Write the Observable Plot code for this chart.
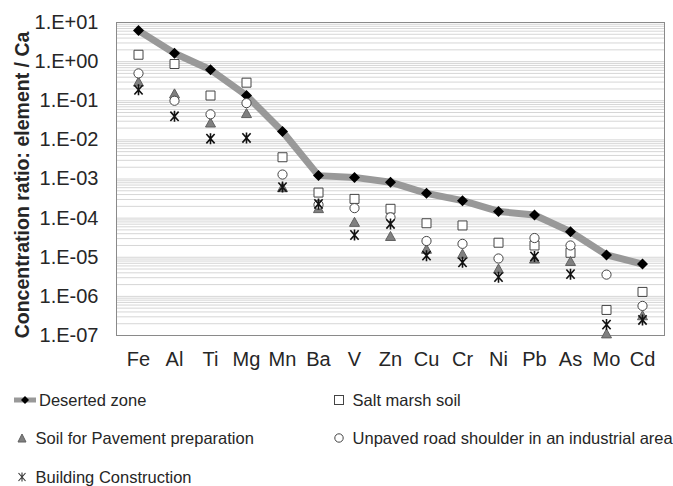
<!DOCTYPE html>
<html>
<head>
<meta charset="utf-8">
<script src="https://cdn.jsdelivr.net/npm/d3@7"></script>
<script src="https://cdn.jsdelivr.net/npm/@observablehq/plot@0.6"></script>
<style>
  body { margin: 0; background: white; font-family: "Liberation Sans", Arial, sans-serif; }
  #wrap { position: relative; width: 673px; height: 486px; overflow: hidden; }
  #legend { position: absolute; left: 0; top: 375px; width: 673px; height: 111px; font-size: 16.5px; color: #262626; }
  .item { position: absolute; display: flex; align-items: center; white-space: nowrap; height: 20px; }
  .item svg { margin-right: 3px; }
</style>
</head>
<body>
<div id="wrap">
  <div id="chart"></div>
  <div id="legend"></div>
</div>
<script>
const elements = ["Fe","Al","Ti","Mg","Mn","Ba","V","Zn","Cu","Cr","Ni","Pb","As","Mo","Cd"];
const deserted  = [6.2, 1.64, 0.62, 0.136, 0.0163, 0.00122, 0.0011, 0.00083, 0.00043, 0.00028, 0.000148, 0.00012, 4.5e-5, 1.15e-5, 6.7e-6];
const saltMarsh = [1.5, 0.87, 0.136, 0.29, 0.0036, 0.00045, 0.00031, 0.000173, 7.4e-5, 6.5e-5, 2.35e-5, 2.0e-5, 1.3e-5, 4.5e-7, 1.3e-6];
const pavement  = [0.3, 0.15, 0.027, 0.047, 6.0e-4, 1.75e-4, 7.8e-5, 3.4e-5, 1.6e-5, 1.2e-5, 5e-6, 9e-6, 7.8e-6, 1.1e-7, 3.2e-7];
const unpaved   = [0.5, 0.10, 0.045, 0.087, 0.0013, 2.2e-4, 1.8e-4, 1.05e-4, 2.6e-5, 2.2e-5, 9.3e-6, 3.1e-5, 2.0e-5, 3.6e-6, 5.7e-7];
const building  = [0.19, 0.04, 0.0107, 0.0112, 6.2e-4, 2.3e-4, 3.7e-5, 7.1e-5, 1.1e-5, 7.4e-6, 3.1e-6, 1.05e-5, 3.7e-6, 1.9e-7, 2.5e-7];
const seriesNames = ["Deserted zone", "Salt marsh soil", "Soil for Pavement preparation", "Unpaved road shoulder in an industrial area", "Building Construction"];
const yTicks = [1e1, 1e0, 1e-1, 1e-2, 1e-3, 1e-4, 1e-5, 1e-6, 1e-7];
const yTickLabels = ["1.E+01","1.E+00","1.E-01","1.E-02","1.E-03","1.E-04","1.E-05","1.E-06","1.E-07"];
const yLabel = "Concentration ratio: element / Ca";

const rows = (vals) => elements.map((el, i) => ({el, v: vals[i]}));

// minor gridlines (log scale)
const grid = [];
for (let e = -7; e <= 0; e++) for (let m = 1; m <= 9; m++) grid.push(m * Math.pow(10, e));
grid.push(10);

const rOf = (size) => Math.sqrt(size / Math.PI);
const diamondSym = {draw(c, s){ const r = rOf(s); c.moveTo(0,-r); c.lineTo(r,0); c.lineTo(0,r); c.lineTo(-r,0); c.closePath(); }};
const squareSym = {draw(c, s){ const r = rOf(s); c.rect(-r,-r,2*r,2*r); }};
const triSym = {draw(c, s){ const r = rOf(s); c.moveTo(0,-r); c.lineTo(r,0.8*r); c.lineTo(-r,0.8*r); c.closePath(); }};
const starSym = {draw(c, s){ const r = rOf(s);
  c.moveTo(0,-r); c.lineTo(0,r);
  c.moveTo(-0.75*r,-0.85*r); c.lineTo(0.75*r,0.85*r);
  c.moveTo(-0.75*r,0.85*r); c.lineTo(0.75*r,-0.85*r); }};

const chart = Plot.plot({
  width: 673, height: 375,
  marginTop: 22, marginLeft: 116, marginRight: 9, marginBottom: 40,
  style: {fontFamily: "'Liberation Sans', Arial, sans-serif", fontSize: "20px", color: "#262626", background: "white", overflow: "visible"},
  x: {type: "point", domain: elements, padding: 0.5, align: 0.5, label: null, tickSize: 0, tickPadding: 16},
  y: {type: "log", domain: [1e-7, 10], ticks: yTicks, tickFormat: d => yTickLabels[yTicks.findIndex(t => Math.abs(Math.log10(t) - Math.log10(d)) < 1e-6)], tickSize: 0, tickPadding: 18, label: null},
  marks: [
    Plot.ruleY(grid, {stroke: "#d6d6d6", strokeWidth: 1}),
    Plot.frame({stroke: "#8a8a8a"}),
    Plot.line(rows(deserted), {x: "el", y: "v", stroke: "#999999", strokeWidth: 7, strokeLinejoin: "round", strokeLinecap: "butt"}),
    Plot.dot(rows(deserted), {x: "el", y: "v", symbol: diamondSym, r: 5.5, fill: "black", stroke: "none"}),
    Plot.dot(rows(saltMarsh), {x: "el", y: "v", symbol: squareSym, r: 4.5, fill: "white", stroke: "#444", strokeWidth: 1}),
    Plot.dot(rows(pavement), {x: "el", y: "v", symbol: triSym, r: 5, fill: "#808080", stroke: "#606060", strokeWidth: 1}),
    Plot.dot(rows(unpaved), {x: "el", y: "v", symbol: "circle", r: 4.6, fill: "white", stroke: "#444", strokeWidth: 1}),
    Plot.dot(rows(building), {x: "el", y: "v", symbol: starSym, r: 5.5, fill: "none", stroke: "#111", strokeWidth: 1.6}),
    Plot.text([yLabel], {frameAnchor: "left", text: d => d, dx: -94, dy: 6, rotate: -90, textAnchor: "middle", fontWeight: "bold", fontSize: 19.5, fill: "#262626"})
  ]
});
document.getElementById("chart").appendChild(chart);

// legend
const legendSvgs = [
  `<svg width="22" height="12"><line x1="0" y1="6" x2="22" y2="6" stroke="#999" stroke-width="5"/><path d="M11,2L15,6L11,10L7,6Z" fill="black"/></svg>`,
  `<svg width="12" height="12"><rect x="1.5" y="1.5" width="9" height="9" fill="white" stroke="#444"/></svg>`,
  `<svg width="12" height="12"><path d="M6,2L10,10L2,10Z" fill="#808080" stroke="#606060"/></svg>`,
  `<svg width="12" height="12"><circle cx="6" cy="6" r="4.2" fill="white" stroke="#444"/></svg>`,
  `<svg width="12" height="12"><path d="M6,1.5V10.5M2.5,2L9.5,10M2.5,10L9.5,2" stroke="#333" stroke-width="1.1" fill="none"/></svg>`
];
const legendPos = [[14, 25], [333, 25], [16, 63], [333, 63], [16, 102]];
const legend = document.getElementById("legend");
seriesNames.forEach((name, i) => {
  const d = document.createElement("div");
  d.className = "item";
  d.style.left = legendPos[i][0] + "px";
  d.style.top = (legendPos[i][1] - 10) + "px";
  d.innerHTML = legendSvgs[i] + `<span>${i === 0 ? "" : "&nbsp;"}${name}</span>`;
  legend.appendChild(d);
});
</script>
</body>
</html>
